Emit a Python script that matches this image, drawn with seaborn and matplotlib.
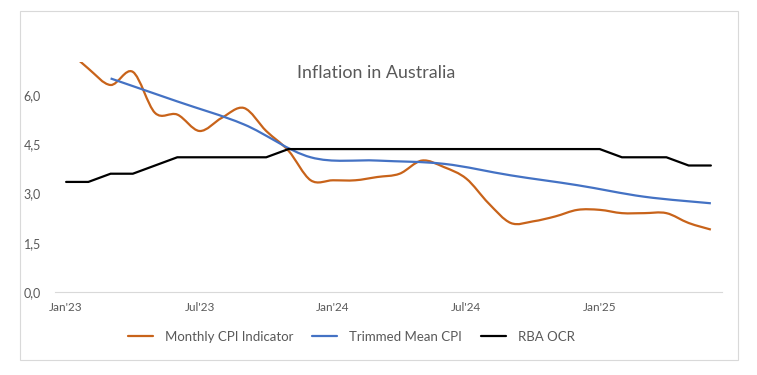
import pandas as pd
import matplotlib.pyplot as plt
import seaborn as sns
from matplotlib.path import Path
from matplotlib.patches import PathPatch, Rectangle
from matplotlib.lines import Line2D

# Monthly observations, Jan'23 .. Jun'25
months = pd.date_range("2023-01-01", "2025-06-01", freq="MS")
tick_labels = ["Jan'23", "Jul'23", "Jan'24", "Jul'24", "Jan'25"]

monthly_cpi = [7.4, 6.8, 6.3, 6.7, 5.45, 5.4, 4.9, 5.3, 5.6, 4.9, 4.3, 3.4,
               3.4, 3.4, 3.5, 3.6, 4.0, 3.8, 3.45, 2.7, 2.1, 2.15, 2.3, 2.5,
               2.5, 2.4, 2.4, 2.4, 2.1, 1.9]
# quarterly series, only reported at quarter end
trimmed_mean = [None, None, 6.5, None, None, 5.8, None, None, 5.1, None, None, 4.1,
                None, None, 4.0, None, None, 3.9, None, None, 3.55, None, None, 3.25,
                None, None, 2.9, None, None, 2.7]
rba_ocr = [3.35, 3.35, 3.6, 3.6, 3.85, 4.1, 4.1, 4.1, 4.1, 4.1, 4.35, 4.35,
           4.35, 4.35, 4.35, 4.35, 4.35, 4.35, 4.35, 4.35, 4.35, 4.35, 4.35, 4.35,
           4.35, 4.1, 4.1, 4.1, 3.85, 3.85]

df = pd.DataFrame({"month": months, "cpi": monthly_cpi,
                   "trimmed": trimmed_mean, "ocr": rba_ocr})
df["t"] = range(len(df))

ORANGE = "#C8631A"
BLUE = "#4472C4"
GREY = "#595959"
LIGHT = "#D9D9D9"


def smooth_path(x, y):
    # Excel style smoothed line: cubic bezier through every point
    x = list(x)
    y = list(y)
    n = len(x)
    verts = [(x[0], y[0])]
    codes = [Path.MOVETO]
    for i in range(n - 1):
        xa, ya = (x[i - 1], y[i - 1]) if i > 0 else (x[i], y[i])
        xd, yd = (x[i + 2], y[i + 2]) if i + 2 < n else (x[i + 1], y[i + 1])
        c1 = (x[i] + (x[i + 1] - xa) / 6, y[i] + (y[i + 1] - ya) / 6)
        c2 = (x[i + 1] - (xd - x[i]) / 6, y[i + 1] - (yd - y[i]) / 6)
        verts += [c1, c2, (x[i + 1], y[i + 1])]
        codes += [Path.CURVE4] * 3
    return Path(verts, codes)


sns.set_theme(style="white")
plt.rcParams["font.family"] = ["Lato", "DejaVu Sans"]

fig = plt.figure(figsize=(7.57, 3.75), dpi=100)
ax = fig.add_axes([55 / 757, 1 - 292 / 375, 667 / 757, 230 / 375])

# smoothed series
ax.add_patch(PathPatch(smooth_path(df["t"], df["cpi"]), facecolor="none",
                       edgecolor=ORANGE, lw=1.6))
q = df.dropna(subset=["trimmed"])
ax.add_patch(PathPatch(smooth_path(q["t"], q["trimmed"]), facecolor="none",
                       edgecolor=BLUE, lw=1.6))
# cash rate, straight segments
sns.lineplot(data=df, x="t", y="ocr", color="black", lw=1.6, ax=ax, legend=False)

ax.set_xlim(-0.5, 29.5)
ax.set_ylim(0, 7.0)
ax.set_xlabel("")
ax.set_ylabel("")

ax.set_xticks([0, 6, 12, 18, 24])
ax.set_xticklabels(tick_labels)
ax.set_xticks([i - 0.5 for i in range(0, 31, 6)], minor=True)
ax.tick_params(axis="x", which="major", length=0, pad=7, labelsize=8.5, labelcolor=GREY)
ax.tick_params(axis="x", which="minor", length=4, width=0.8, color=LIGHT, direction="out")

ax.set_yticks([0, 1.5, 3.0, 4.5, 6.0])
ax.set_yticklabels([f"{v:.1f}".replace(".", ",") for v in [0, 1.5, 3.0, 4.5, 6.0]])
ax.tick_params(axis="y", length=0, pad=10, labelsize=9, labelcolor=GREY)

for side in ["top", "right", "left"]:
    ax.spines[side].set_visible(False)
ax.spines["bottom"].set_color(LIGHT)
ax.spines["bottom"].set_linewidth(0.8)

fig.text(376.5 / 757, 1 - 73 / 375, "Inflation in Australia", ha="center",
         va="center", fontsize=12.9, color=GREY)

handles = [Line2D([], [], color=ORANGE, lw=1.6),
           Line2D([], [], color=BLUE, lw=1.6),
           Line2D([], [], color="black", lw=1.6)]
fig.legend(handles, ["Monthly CPI Indicator", "Trimmed Mean CPI", "RBA OCR"],
           loc="center", bbox_to_anchor=(351.5 / 757, 1 - 337 / 375), ncol=3,
           frameon=False, fontsize=9.5, handlelength=1.9, handletextpad=0.9,
           columnspacing=1.45, labelcolor=GREY)

# chart area border
fig.patches.append(Rectangle((20 / 757, 1 - 360 / 375), 718 / 757, 349 / 375,
                             transform=fig.transFigure, fill=False,
                             edgecolor=LIGHT, lw=0.8))

fig.savefig("out.png", dpi=100)
